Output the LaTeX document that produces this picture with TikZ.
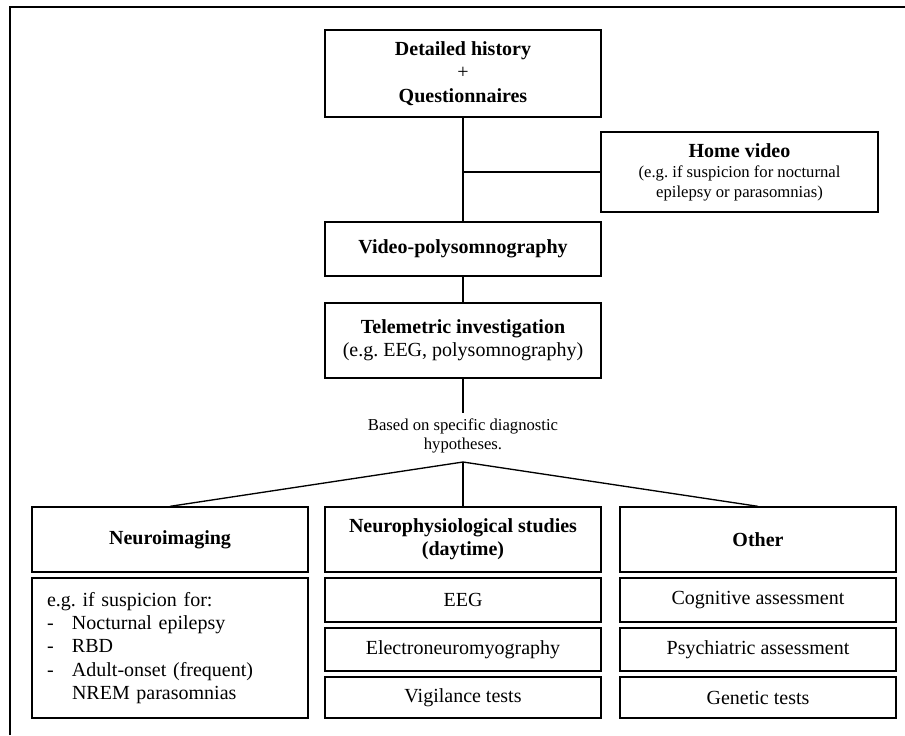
\documentclass[tikz,border=0pt]{standalone}
\usepackage{fontspec}
\setmainfont{Liberation Serif}
\usepackage{tikz}
\usetikzlibrary{calc}
\frenchspacing
\tikzset{
	box/.style={draw, line width=0.8pt, inner sep=2pt, align=center,
		minimum width=165.6pt, font=\fontsize{12}{14}\selectfont},
	smalltext/.style={font=\fontsize{10}{11.5}\selectfont, align=center},
	link/.style={line width=0.8pt}
}
\newcommand{\dashitem}{\makebox[15pt][l]{-}}

\begin{document}
\begin{tikzpicture}[x=0.6pt,y=-0.6pt]
\useasboundingbox (0,0) rectangle (905,735);
       \draw[line width=1.3pt] (10,735) -- (10,7) -- (905,7);
       
       \node[box, minimum height=52.2pt] (hist) at (463,73.5)
              {\textbf{Detailed history}\\+\\\textbf{Questionnaires}};
       
       \node[box, minimum width=166.2pt, minimum height=48pt,
              font=\fontsize{10}{12}\selectfont] (home) at (739.5,172)
              {\textbf{\fontsize{12}{12}\selectfont Home video}\\
               (e.g. if suspicion for nocturnal\\epilepsy or parasomnias)};
       
       \node[box, minimum height=32.4pt] (vpsg) at (463,249)
              {\textbf{Video-polysomnography}};
       
       \node[box, minimum height=45pt] (tele) at (463,340.5)
              {\textbf{Telemetric investigation}\\(e.g. EEG, polysomnography)};
       
       \node[smalltext, inner sep=3pt] (hyp) at (463,436)
              {Based on specific diagnostic\\hypotheses.};
       
       \coordinate (fork) at (463,462);
       
       \node[box, minimum height=39pt] (neuro) at (170,539.5) {\textbf{Neuroimaging}};
       \node[box, minimum height=39pt] (phys) at (463,539.5)
              {\textbf{Neurophysiological studies}\\\textbf{(daytime)}};
       \node[box, minimum height=39pt] (other) at (758,539.5) {\textbf{Other}};
       
       \node[box, minimum height=84pt, text width=147.6pt, inner xsep=9pt,
              align=left] (list) at (170,648)
              {e.g. if suspicion for:\\
               \dashitem Nocturnal epilepsy\\
               \dashitem RBD\\
               \dashitem Adult-onset (frequent)\\
               \hspace*{15pt}NREM parasomnias};
       
       \node[box, minimum height=26.4pt] (eeg) at (463,600) {EEG};
       \node[box, minimum height=25.8pt] (emg) at (463,649.5) {Electroneuromyography};
       \node[box, minimum height=24.6pt] (vig) at (463,697.5) {Vigilance tests};
       
       \node[box, minimum height=26.4pt] (cog) at (758,600) {Cognitive assessment};
       \node[box, minimum height=25.8pt] (psy) at (758,649.5) {Psychiatric assessment};
       \node[box, minimum height=24.6pt] (gen) at (758,697.5) {Genetic tests};
       
       \draw[link] (hist) -- (vpsg);
       \draw[link] (home.west) -- (home.west -| hist.south);
       \draw[link] (vpsg) -- (tele);
       \draw[link] (tele) -- (hyp);
       
       \draw[link] (fork) -- (neuro.north);
       \draw[link] (fork) -- (phys.north);
       \draw[link] (fork) -- (other.north);
\end{tikzpicture}
\end{document}
